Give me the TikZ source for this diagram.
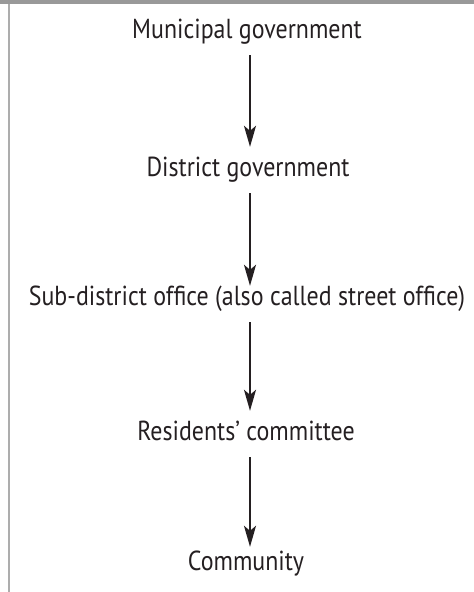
\documentclass[tikz,border=0pt]{standalone}
\usepackage{fontspec}
\setmainfont{PT Sans}[FakeStretch=0.87]
\usetikzlibrary{arrows.meta}
\definecolor{txt}{rgb}{0.14,0.12,0.13}
\definecolor{edge}{rgb}{0.6,0.6,0.6}
\definecolor{side}{rgb}{0.68,0.68,0.68}
\tikzstyle{level}=[anchor=base, text=txt, font=\fontsize{27.5}{32}\selectfont, text height=17pt, text depth=5pt, inner xsep=0pt, inner ysep=12pt]
\tikzstyle{down}=[txt, line width=2pt, -{Stealth[length=21pt,width=12pt,inset=5pt]}]

\begin{document}
\begin{tikzpicture}[x=1pt,y=-1pt]
\useasboundingbox (0,0) rectangle (474,592);
% frame
\fill[edge] (0,0) rectangle (474,4);
\fill[side] (8,4) rectangle (10,592);
\node[level] (muni) at (247,38) {Municipal government};
\node[level] (dist) at (248,176) {District government};
\node[level] (subd) at (247,305) {Sub-district office (also called street office)};
\node[level] (resid) at (246,440) {Residents’ committee};
\node[level] (comm) at (246,570) {Community};
\draw[down] ([xshift=3pt]muni.south) -- ([xshift=2pt]dist.north);
\draw[down, shorten >=-10pt] ([xshift=2pt]dist.south) -- ([xshift=3pt]subd.north);
\draw[down] ([xshift=3pt]subd.south) -- ([xshift=4pt]resid.north);
\draw[down, shorten >=-6pt] ([xshift=4pt]resid.south) -- ([xshift=4pt]comm.north);
\end{tikzpicture}
\end{document}
